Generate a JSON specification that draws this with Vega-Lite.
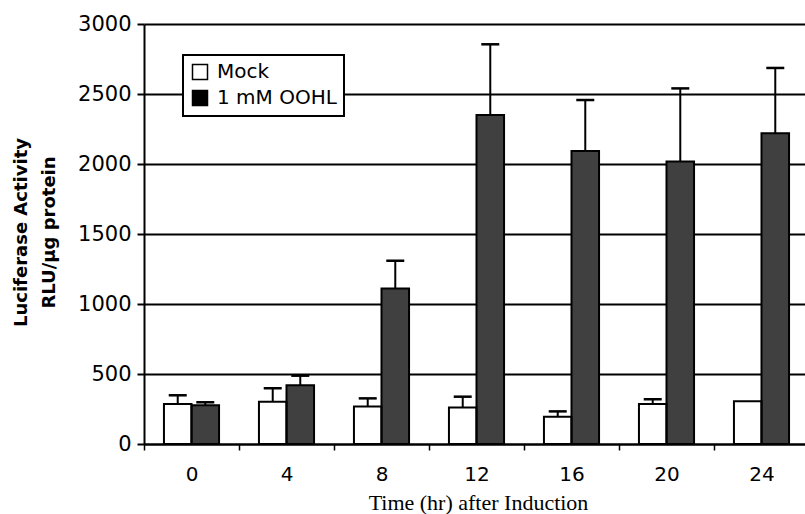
{
  "$schema": "https://vega.github.io/schema/vega-lite/v6.json",
  "autosize": "none",
  "padding": {"left": 144, "top": 24, "right": 0, "bottom": 70},
  "width": 661,
  "height": 420,
  "background": "white",
  "data": {
    "values": [
      {"time": 0, "group": "Mock", "value": 285, "upper": 348},
      {"time": 4, "group": "Mock", "value": 302, "upper": 398},
      {"time": 8, "group": "Mock", "value": 267, "upper": 326},
      {"time": 12, "group": "Mock", "value": 260, "upper": 338},
      {"time": 16, "group": "Mock", "value": 195, "upper": 233},
      {"time": 20, "group": "Mock", "value": 286, "upper": 319},
      {"time": 24, "group": "Mock", "value": 305, "upper": null},
      {"time": 0, "group": "1 mM OOHL", "value": 276, "upper": 298},
      {"time": 4, "group": "1 mM OOHL", "value": 419, "upper": 488},
      {"time": 8, "group": "1 mM OOHL", "value": 1110, "upper": 1309},
      {"time": 12, "group": "1 mM OOHL", "value": 2350, "upper": 2855},
      {"time": 16, "group": "1 mM OOHL", "value": 2093, "upper": 2457},
      {"time": 20, "group": "1 mM OOHL", "value": 2017, "upper": 2540},
      {"time": 24, "group": "1 mM OOHL", "value": 2219, "upper": 2686}
    ]
  },
  "encoding": {
    "x": {
      "field": "time",
      "type": "ordinal",
      "scale": {"range": [0, 665], "paddingInner": 0.42, "paddingOuter": 0.21},
      "axis": {
        "title": "Time (hr) after Induction",
        "titleFont": "Liberation Serif",
        "titleFontSize": 22,
        "titleFontWeight": "normal",
        "titleColor": "black",
        "titleX": 334,
        "titleY": 65,
        "titleBaseline": "alphabetic",
        "labelAngle": 0,
        "labelFont": "DejaVu Sans",
        "labelFontSize": 20,
        "labelColor": "black",
        "labelPadding": 14,
        "bandPosition": 0,
        "tickOffset": -20,
        "labelOffset": 20,
        "domainColor": "black",
        "domainWidth": 2,
        "tickColor": "black",
        "tickWidth": 1.5,
        "tickSize": 6,
        "grid": false
      }
    },
    "xOffset": {"field": "group", "type": "nominal", "scale": {"domain": ["Mock", "1 mM OOHL"]}}
  },
  "layer": [
    {
      "mark": {"type": "bar", "fill": "white", "strokeWidth": 0},
      "encoding": {
        "y": {
          "field": "value",
          "type": "quantitative",
          "scale": {"domain": [0, 3000], "nice": false},
          "axis": {
            "title": ["Luciferase Activity", "RLU/µg protein"],
            "titleFont": "DejaVu Sans",
            "titleFontWeight": "bold",
            "titleFontSize": 18,
            "titleColor": "black",
            "titleLineHeight": 28,
            "titleX": -132,
            "titleY": 208,
            "titleAngle": -90,
            "titleAlign": "center",
            "titleBaseline": "top",
            "values": [0, 500, 1000, 1500, 2000, 2500, 3000],
            "format": "d",
            "labelFont": "DejaVu Sans",
            "labelFontSize": 21,
            "labelColor": "black",
            "labelPadding": 6,
            "tickSize": 7,
            "tickColor": "black",
            "tickWidth": 2,
            "domainColor": "black",
            "domainWidth": 2,
            "grid": true,
            "gridColor": "black",
            "gridWidth": 2,
            "gridOpacity": 1
          }
        }
      }
    },
    {
      "mark": {"type": "bar", "stroke": "black", "strokeWidth": 2, "fillOpacity": 0.75},
      "encoding": {
        "y": {"field": "value", "type": "quantitative"},
        "fill": {
          "field": "group",
          "type": "nominal",
          "scale": {"domain": ["Mock", "1 mM OOHL"], "range": ["white", "black"]},
          "legend": {
            "title": null,
            "orient": "none",
            "legendX": 39,
            "legendY": 31,
            "strokeColor": "black",
            "fillColor": "white",
            "padding": 7,
            "rowPadding": 4,
            "symbolType": "square",
            "symbolSize": 225,
            "symbolStrokeColor": "black",
            "symbolStrokeWidth": 1.5,
            "labelFont": "DejaVu Sans",
            "labelFontSize": 20,
            "labelColor": "black",
            "labelOffset": 7,
            "encode": {
              "symbols": {"update": {"stroke": {"value": "black"}, "strokeWidth": {"value": 1.5}, "fillOpacity": {"value": 1}}},
              "legend": {"update": {"strokeWidth": {"value": 2}}}
            }
          }
        }
      }
    },
    {
      "transform": [{"filter": "datum.upper != null"}],
      "mark": {"type": "rule", "color": "black", "strokeWidth": 2},
      "encoding": {
        "y": {"field": "value", "type": "quantitative"},
        "y2": {"field": "upper"}
      }
    },
    {
      "transform": [{"filter": "datum.upper != null"}],
      "mark": {"type": "tick", "color": "black", "size": 18, "thickness": 2.5, "opacity": 1},
      "encoding": {
        "y": {"field": "upper", "type": "quantitative"}
      }
    }
  ],
  "config": {"view": {"stroke": null}}
}
